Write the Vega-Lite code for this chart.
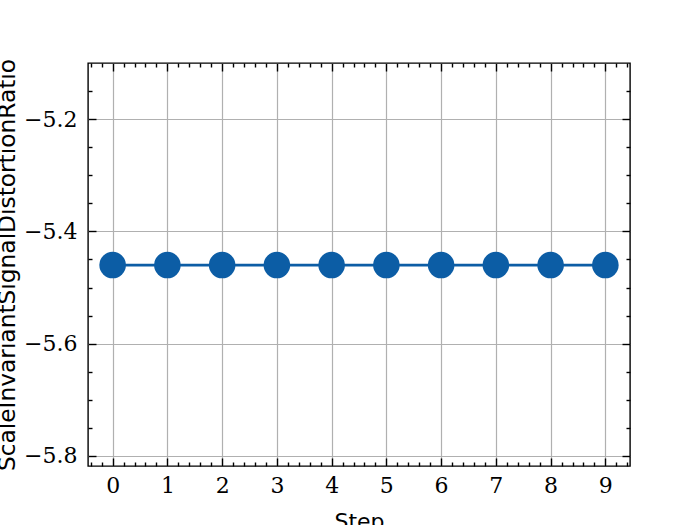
{
  "$schema": "https://vega.github.io/schema/vega-lite/v6.json",
  "autosize": {"type": "none"},
  "width": 542,
  "height": 403,
  "padding": {"left": 88, "top": 63, "right": 70, "bottom": 59},
  "background": "white",
  "config": {
    "view": {"stroke": "black", "strokeWidth": 1.4},
    "axis": {"labelFont": "DejaVu Serif", "labelFontSize": 22, "labelColor": "black", "titleFont": "DejaVu Sans", "titleFontSize": 22, "titleFontWeight": "normal", "titleColor": "black"}
  },
  "data": {"values": [
    {"Step": 0, "SI": -5.46},
    {"Step": 1, "SI": -5.46},
    {"Step": 2, "SI": -5.46},
    {"Step": 3, "SI": -5.46},
    {"Step": 4, "SI": -5.46},
    {"Step": 5, "SI": -5.46},
    {"Step": 6, "SI": -5.46},
    {"Step": 7, "SI": -5.46},
    {"Step": 8, "SI": -5.46},
    {"Step": 9, "SI": -5.46}
  ]},
  "resolve": {"axis": {"x": "independent", "y": "independent"}},
  "layer": [
    {
      "mark": {"type": "point", "opacity": 0},
      "encoding": {
        "x": {"field": "Step", "type": "quantitative", "scale": {"domain": [-0.45, 9.45], "nice": false, "zero": false},
          "axis": {"orient": "bottom", "values": [0,1,2,3,4,5,6,7,8,9], "grid": true, "gridColor": "#b0b0b0", "gridWidth": 1.2, "gridOpacity": 1, "ticks": false, "domain": false, "labelPadding": 9, "labelBaseline": "top", "title": "Step", "titleY": 62, "titleBaseline": "alphabetic"}},
        "y": {"field": "SI", "type": "quantitative", "scale": {"domain": [-5.818, -5.1], "nice": false, "zero": false},
          "axis": {"orient": "left", "values": [-5.8, -5.6, -5.4, -5.2], "format": ".1f", "grid": true, "gridColor": "#b0b0b0", "gridWidth": 1.2, "gridOpacity": 1, "ticks": false, "domain": false, "labelPadding": 11, "title": "ScaleInvariantSignalDistortionRatio", "titleFontSize": 23.3, "titleAngle": -90, "titleX": -74, "titleY": 201.5, "titleAlign": "center", "titleBaseline": "alphabetic"}}
      }
    },
    {
      "mark": {"type": "line", "color": "#0C5DA5", "strokeWidth": 2.7},
      "encoding": {
        "x": {"field": "Step", "type": "quantitative", "scale": {"domain": [-0.45, 9.45], "nice": false, "zero": false}, "axis": null},
        "y": {"field": "SI", "type": "quantitative", "scale": {"domain": [-5.818, -5.1], "nice": false, "zero": false}, "axis": null}
      }
    },
    {
      "mark": {"type": "point", "filled": true, "color": "#0C5DA5", "opacity": 1, "size": 707, "strokeWidth": 0},
      "encoding": {
        "x": {"field": "Step", "type": "quantitative", "scale": {"domain": [-0.45, 9.45], "nice": false, "zero": false}, "axis": null},
        "y": {"field": "SI", "type": "quantitative", "scale": {"domain": [-5.818, -5.1], "nice": false, "zero": false}, "axis": null}
      }
    },
    {
      "mark": {"type": "point", "opacity": 0},
      "encoding": {
        "x": {"field": "Step", "type": "quantitative", "scale": {"domain": [-0.45, 9.45], "nice": false, "zero": false},
          "axis": {"orient": "bottom", "offset": -8, "values": [0,1,2,3,4,5,6,7,8,9], "tickSize": 8, "tickWidth": 1.4, "tickColor": "black", "labels": false, "grid": false, "domain": false, "title": null}},
        "y": {"field": "SI", "type": "quantitative", "scale": {"domain": [-5.818, -5.1], "nice": false, "zero": false},
          "axis": {"orient": "left", "offset": -8, "values": [-5.8, -5.6, -5.4, -5.2], "tickSize": 8, "tickWidth": 1.4, "tickColor": "black", "labels": false, "grid": false, "domain": false, "title": null}}
      }
    },
    {
      "mark": {"type": "point", "opacity": 0},
      "encoding": {
        "x": {"field": "Step", "type": "quantitative", "scale": {"domain": [-0.45, 9.45], "nice": false, "zero": false},
          "axis": {"orient": "top", "offset": -8, "values": [0,1,2,3,4,5,6,7,8,9], "tickSize": 8, "tickWidth": 1.4, "tickColor": "black", "labels": false, "grid": false, "domain": false, "title": null}},
        "y": {"field": "SI", "type": "quantitative", "scale": {"domain": [-5.818, -5.1], "nice": false, "zero": false},
          "axis": {"orient": "right", "offset": -8, "values": [-5.8, -5.6, -5.4, -5.2], "tickSize": 8, "tickWidth": 1.4, "tickColor": "black", "labels": false, "grid": false, "domain": false, "title": null}}
      }
    },
    {
      "mark": {"type": "point", "opacity": 0},
      "encoding": {
        "x": {"field": "Step", "type": "quantitative", "scale": {"domain": [-0.45, 9.45], "nice": false, "zero": false},
          "axis": {"orient": "bottom", "offset": -4, "values": [-0.4,-0.2,0.2,0.4,0.6,0.8,1.2,1.4,1.6,1.8,2.2,2.4,2.6,2.8,3.2,3.4,3.6,3.8,4.2,4.4,4.6,4.8,5.2,5.4,5.6,5.8,6.2,6.4,6.6,6.8,7.2,7.4,7.6,7.8,8.2,8.4,8.6,8.8,9.2,9.4], "tickSize": 4, "tickWidth": 1.4, "tickColor": "black", "labels": false, "grid": false, "domain": false, "title": null}},
        "y": {"field": "SI", "type": "quantitative", "scale": {"domain": [-5.818, -5.1], "nice": false, "zero": false},
          "axis": {"orient": "left", "offset": -4, "values": [-5.75,-5.7,-5.65,-5.55,-5.5,-5.45,-5.35,-5.3,-5.25,-5.15], "tickSize": 4, "tickWidth": 1.4, "tickColor": "black", "labels": false, "grid": false, "domain": false, "title": null}}
      }
    },
    {
      "mark": {"type": "point", "opacity": 0},
      "encoding": {
        "x": {"field": "Step", "type": "quantitative", "scale": {"domain": [-0.45, 9.45], "nice": false, "zero": false},
          "axis": {"orient": "top", "offset": -4, "values": [-0.4,-0.2,0.2,0.4,0.6,0.8,1.2,1.4,1.6,1.8,2.2,2.4,2.6,2.8,3.2,3.4,3.6,3.8,4.2,4.4,4.6,4.8,5.2,5.4,5.6,5.8,6.2,6.4,6.6,6.8,7.2,7.4,7.6,7.8,8.2,8.4,8.6,8.8,9.2,9.4], "tickSize": 4, "tickWidth": 1.4, "tickColor": "black", "labels": false, "grid": false, "domain": false, "title": null}},
        "y": {"field": "SI", "type": "quantitative", "scale": {"domain": [-5.818, -5.1], "nice": false, "zero": false},
          "axis": {"orient": "right", "offset": -4, "values": [-5.75,-5.7,-5.65,-5.55,-5.5,-5.45,-5.35,-5.3,-5.25,-5.15], "tickSize": 4, "tickWidth": 1.4, "tickColor": "black", "labels": false, "grid": false, "domain": false, "title": null}}
      }
    }
  ]
}
